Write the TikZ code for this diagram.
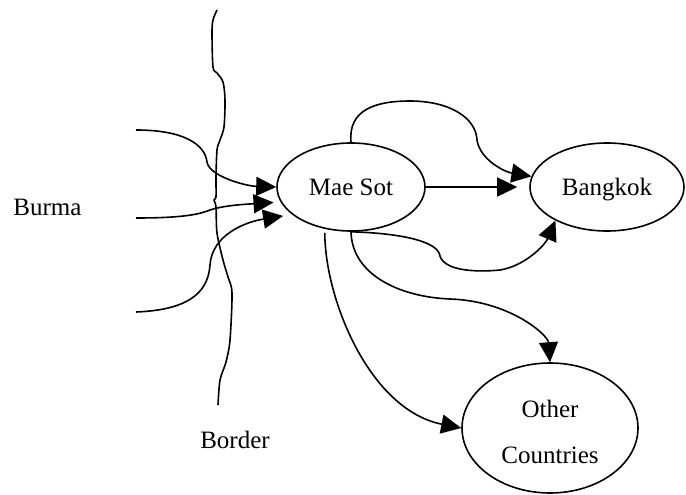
\documentclass[tikz,border=0pt]{standalone}
\usepackage{fontspec}
\setmainfont{Liberation Serif}
\usetikzlibrary{arrows.meta,shapes.geometric}
\begin{document}
\begin{tikzpicture}[x=1pt,y=-1pt,
  every node/.style={font=\fontsize{25}{46}\selectfont, inner sep=0pt},
  place/.style={draw, ellipse, line width=1.6pt, text depth=0pt},
  lbl/.style={anchor=base},
  flow/.style={line width=1.6pt, -{Triangle[length=20pt,width=19pt]}},
  borderline/.style={line width=1.6pt}
]
\useasboundingbox (0,0) rectangle (686,495);
% places
\node[place, minimum width=148pt, minimum height=88pt] (mae) at (351,187) {Mae Sot};
\node[place, minimum width=154pt, minimum height=88pt] (bkk) at (607,187) {Bangkok};
\node[place, minimum width=176pt, minimum height=130pt, align=center, text height=70pt] (oth) at (550,428) {Other\\Countries};
% labels
\node[lbl] (burma) at (47.5,215) {Burma};
\node[lbl] (border) at (235,448) {Border};
% free ends of incoming flows
\coordinate (b1) at (136,130);
\coordinate (b2) at (136,218);
\coordinate (b3) at (136,312);
% border line
\draw[borderline] plot[smooth, tension=0.5] coordinates {
  (217,10) (213,20) (212,33) (213,67) (217,73) (223,82) (225,100) (224,127)
  (220,140) (217,150) (216,177) (216,197) (214,200) (216,207) (217,233)
  (223,260) (228,277) (232,293) (230,340) (226,362) (220,380) (218,405)};
% incoming flows from Burma
\draw[flow] (b1) .. controls (185,130) and (205,145) .. (207,162)
  .. controls (209,176) and (245,186) .. (mae.west);
\draw[flow, shorten >=7pt] (b2) .. controls (185,218) and (200,214) .. (210,210)
  .. controls (225,205) and (250,204) .. (mae.192.6);
\draw[flow, shorten >=9pt] (b3) .. controls (185,310) and (208,295) .. (210,265)
  .. controls (212,235) and (245,222) .. (mae.205.2);
% Mae Sot to Bangkok
\draw[flow, shorten >=12pt] (mae.east) -- (bkk.west);
\draw[flow] (mae.north) .. controls (348,110) and (375,101) .. (410,101)
  .. controls (450,101) and (476,118) .. (477,140)
  .. controls (480,160) and (505,172) .. (bkk.172);
\draw[flow] (mae.south) .. controls (395,233) and (438,240) .. (440,256)
  .. controls (445,272) and (480,272) .. (500,270)
  .. controls (525,266) and (545,245) .. (bkk.213);
% Mae Sot to Other Countries
\draw[flow] (mae.south) .. controls (352,275) and (400,297) .. (450,299)
  .. controls (510,301) and (548,335) .. (oth.north);
\draw[flow, shorten <=4pt] (mae.238) .. controls (325,300) and (370,410) .. (oth.west);
\end{tikzpicture}
\end{document}
